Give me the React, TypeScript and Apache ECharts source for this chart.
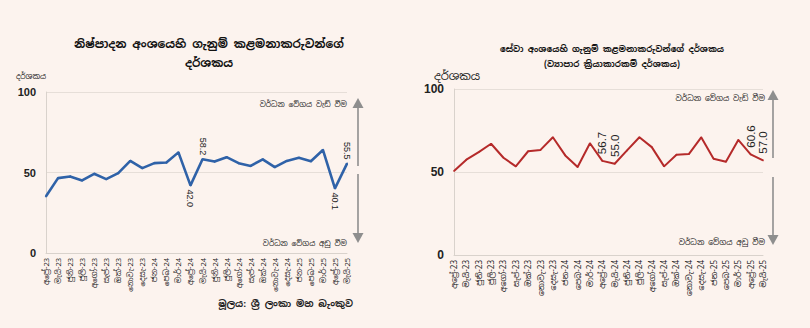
import React, { useEffect, useRef } from "react";
import * as echarts from "echarts";

const months = [
  "අප්‍රේ-23", "මැයි-23", "ජුනි-23", "ජූලි-23", "අගෝ-23", "සැප්-23", "ඔක්-23", "නොවැ-23", "දෙසැ-23",
  "ජන-24", "පෙබ-24", "මාර්-24", "අප්‍රේ-24", "මැයි-24", "ජුනි-24", "ජූලි-24", "අගෝ-24", "සැප්-24",
  "ඔක්-24", "නොවැ-24", "දෙසැ-24", "ජන-25", "පෙබ-25", "මාර්-25", "අප්‍රේ-25", "මැයි-25",
];

const manufacturing = [
  35.2, 46.5, 47.5, 45.1, 49.2, 45.9, 49.6, 57.2, 52.7, 55.8, 56.2, 62.5, 42.0,
  58.2, 56.8, 59.5, 55.8, 54.1, 58.2, 53.3, 57.2, 59.1, 57.0, 64.0, 40.1, 55.5,
];

const services = [
  50.6, 57.4, 62.0, 67.0, 58.6, 53.4, 62.5, 63.3, 70.9, 60.0, 53.0, 67.3, 56.7,
  55.0, 63.0, 70.9, 65.0, 53.4, 60.4, 60.8, 70.9, 58.0, 56.2, 69.3, 60.6, 57.0,
];

// indices of labelled points and whether label sits above (true) or below (false)
const manufacturingLabels: [number, boolean][] = [[12, false], [13, true], [24, false], [25, true]];
const servicesLabels = [12, 13, 24, 25];

const yTicks = { min: 0, max: 100, interval: 50 };

const titleLeft1 = "නිෂ්පාදන අංශයෙහි ගැනුම් කළමනාකරුවන්ගේ";
const titleLeft2 = "දර්ශකය";
const titleRight1 = "සේවා අංශයෙහි ගැනුම් කළමනාකරුවන්ගේ දර්ශකය";
const titleRight2 = "(ව්‍යාපාර ක්‍රියාකාරකම් දර්ශකය)";
const yName = "දර්ශකය";
const upText = "වර්ධන වේගය වැඩි වීම";
const downText = "වර්ධන වේගය අඩු වීම";
const sourceText = "මූලය: ශ්‍රී ලංකා මහ බැංකුව";

const FONT = "'Noto Sans Sinhala', 'Noto Sans', Arial, sans-serif";
const BG = "#fcf3ee";
const ARROW = "#8e8e8e";
const BLUE = "#2f62a8";
const RED = "#b52a2a";

const oneDecimal = (p: any) => Number(p.value).toFixed(1);

function arrow(x: number, y1: number, y2: number, tip: number, up: boolean) {
  const h = 10;
  const w = 5.5;
  const base = up ? tip + h : tip - h;
  return [
    { type: "line", shape: { x1: x, y1, x2: x, y2 }, style: { stroke: ARROW, lineWidth: 1.6 } },
    {
      type: "polygon",
      shape: { points: [[x, tip], [x - w, base], [x + w, base]] },
      style: { fill: ARROW },
    },
  ];
}

export default function App() {
  const ref = useRef<HTMLDivElement>(null);
  useEffect(() => {
    document.body.style.margin = "0";
    const chart = echarts.init(ref.current!, null, { renderer: "svg" });

    const manuData = manufacturing.map((v, i) => {
      const l = manufacturingLabels.find((m) => m[0] === i);
      if (!l) return v;
      return {
        value: v,
        label: {
          show: true,
          formatter: oneDecimal,
          position: l[1] ? "top" : "bottom",
          rotate: -90,
          align: l[1] ? "right" : "left",
          verticalAlign: "middle",
          distance: 3,
          fontSize: 9,
          color: "#222",
          fontFamily: "'Liberation Sans Narrow', Arial, sans-serif",
        },
      };
    });

    const servData = services.map((v, i) => {
      if (!servicesLabels.includes(i)) return v;
      return {
        value: v,
        label: {
          show: true,
          formatter: oneDecimal,
          position: "top",
          rotate: 90,
          align: "left",
          verticalAlign: "middle",
          distance: 6,
          fontSize: 11.5,
          color: "#222",
          fontFamily: "Arial, 'Liberation Sans', sans-serif",
        },
      };
    });

    const xAxisBase = (gridIndex: number, fs: number) => ({
      type: "category",
      gridIndex,
      data: months,
      boundaryGap: false,
      axisLine: { show: true, lineStyle: { color: "#d9d2cc", width: 1 } },
      axisTick: { show: false },
      axisLabel: {
        interval: 0,
        rotate: 90,
        fontSize: fs,
        color: "#222",
        fontFamily: FONT,
        margin: 5,
      },
    });

    const yAxisBase = (gridIndex: number, fs: number) => ({
      type: "value",
      gridIndex,
      min: yTicks.min,
      max: yTicks.max,
      interval: yTicks.interval,
      axisLine: { show: true, lineStyle: { color: "#d9d2cc", width: 1 } },
      axisTick: { show: false },
      splitLine: { show: true, lineStyle: { color: "#e6ded8", width: 1.2 } },
      axisLabel: { fontSize: fs, color: "#222", fontWeight: "bold", fontFamily: "Arial, sans-serif", margin: 10 },
    });

    chart.setOption({
      animation: false,
      backgroundColor: BG,
      grid: [
        { left: 46, right: 463, top: 92, bottom: 75 },
        { left: 454, right: 47, top: 89, bottom: 73 },
      ],
      xAxis: [xAxisBase(0, 7.5), xAxisBase(1, 8)],
      yAxis: [yAxisBase(0, 11), yAxisBase(1, 12)],
      series: [
        {
          type: "line",
          xAxisIndex: 0,
          yAxisIndex: 0,
          data: manuData,
          symbol: "circle",
          symbolSize: 2,
          showSymbol: true,
          itemStyle: { color: BLUE },
          lineStyle: { color: BLUE, width: 2.6 },
        },
        {
          type: "line",
          xAxisIndex: 1,
          yAxisIndex: 1,
          data: servData,
          symbol: "circle",
          symbolSize: 1.5,
          showSymbol: true,
          itemStyle: { color: RED },
          lineStyle: { color: RED, width: 2 },
        },
      ],
      graphic: [
        { type: "text", x: 209, y: 43, style: { text: titleLeft1, fontSize: 11.5, fontWeight: "bold", fill: "#111", align: "center", verticalAlign: "middle", fontFamily: FONT } },
        { type: "text", x: 209, y: 62, style: { text: titleLeft2, fontSize: 11.5, fontWeight: "bold", fill: "#111", align: "center", verticalAlign: "middle", fontFamily: FONT } },
        { type: "text", x: 612, y: 48, style: { text: titleRight1, fontSize: 8.5, fontWeight: "bold", fill: "#111", align: "center", verticalAlign: "middle", fontFamily: FONT } },
        { type: "text", x: 612, y: 63, style: { text: titleRight2, fontSize: 8.5, fontWeight: "bold", fill: "#111", align: "center", verticalAlign: "middle", fontFamily: FONT } },
        { type: "text", x: 16, y: 76, style: { text: yName, fontSize: 7.5, fill: "#222", align: "left", verticalAlign: "middle", fontFamily: FONT } },
        { type: "text", x: 434, y: 75, style: { text: yName, fontSize: 11.5, fill: "#222", align: "left", verticalAlign: "middle", fontFamily: FONT } },
        { type: "text", x: 347, y: 104, style: { text: upText, fontSize: 7.5, fill: "#222", align: "right", verticalAlign: "middle", fontFamily: FONT } },
        { type: "text", x: 347, y: 243, style: { text: downText, fontSize: 7.5, fill: "#222", align: "right", verticalAlign: "middle", fontFamily: FONT } },
        { type: "text", x: 765, y: 98, style: { text: upText, fontSize: 7.7, fill: "#222", align: "right", verticalAlign: "middle", fontFamily: FONT } },
        { type: "text", x: 765, y: 242, style: { text: downText, fontSize: 7.7, fill: "#222", align: "right", verticalAlign: "middle", fontFamily: FONT } },
        { type: "text", x: 353, y: 303, style: { text: sourceText, fontSize: 9.5, fontWeight: "bold", fill: "#222", align: "right", verticalAlign: "middle", fontFamily: FONT } },
        ...arrow(358, 166, 106, 98, true),
        ...arrow(358, 174, 235, 243, false),
        ...arrow(773, 158, 99, 90, true),
        ...arrow(773, 177, 237, 245, false),
      ],
    });
    return () => chart.dispose();
  }, []);
  return <div ref={ref} style={{ width: 810, height: 328, position: "fixed", left: 0, top: 0 }} />;
}
